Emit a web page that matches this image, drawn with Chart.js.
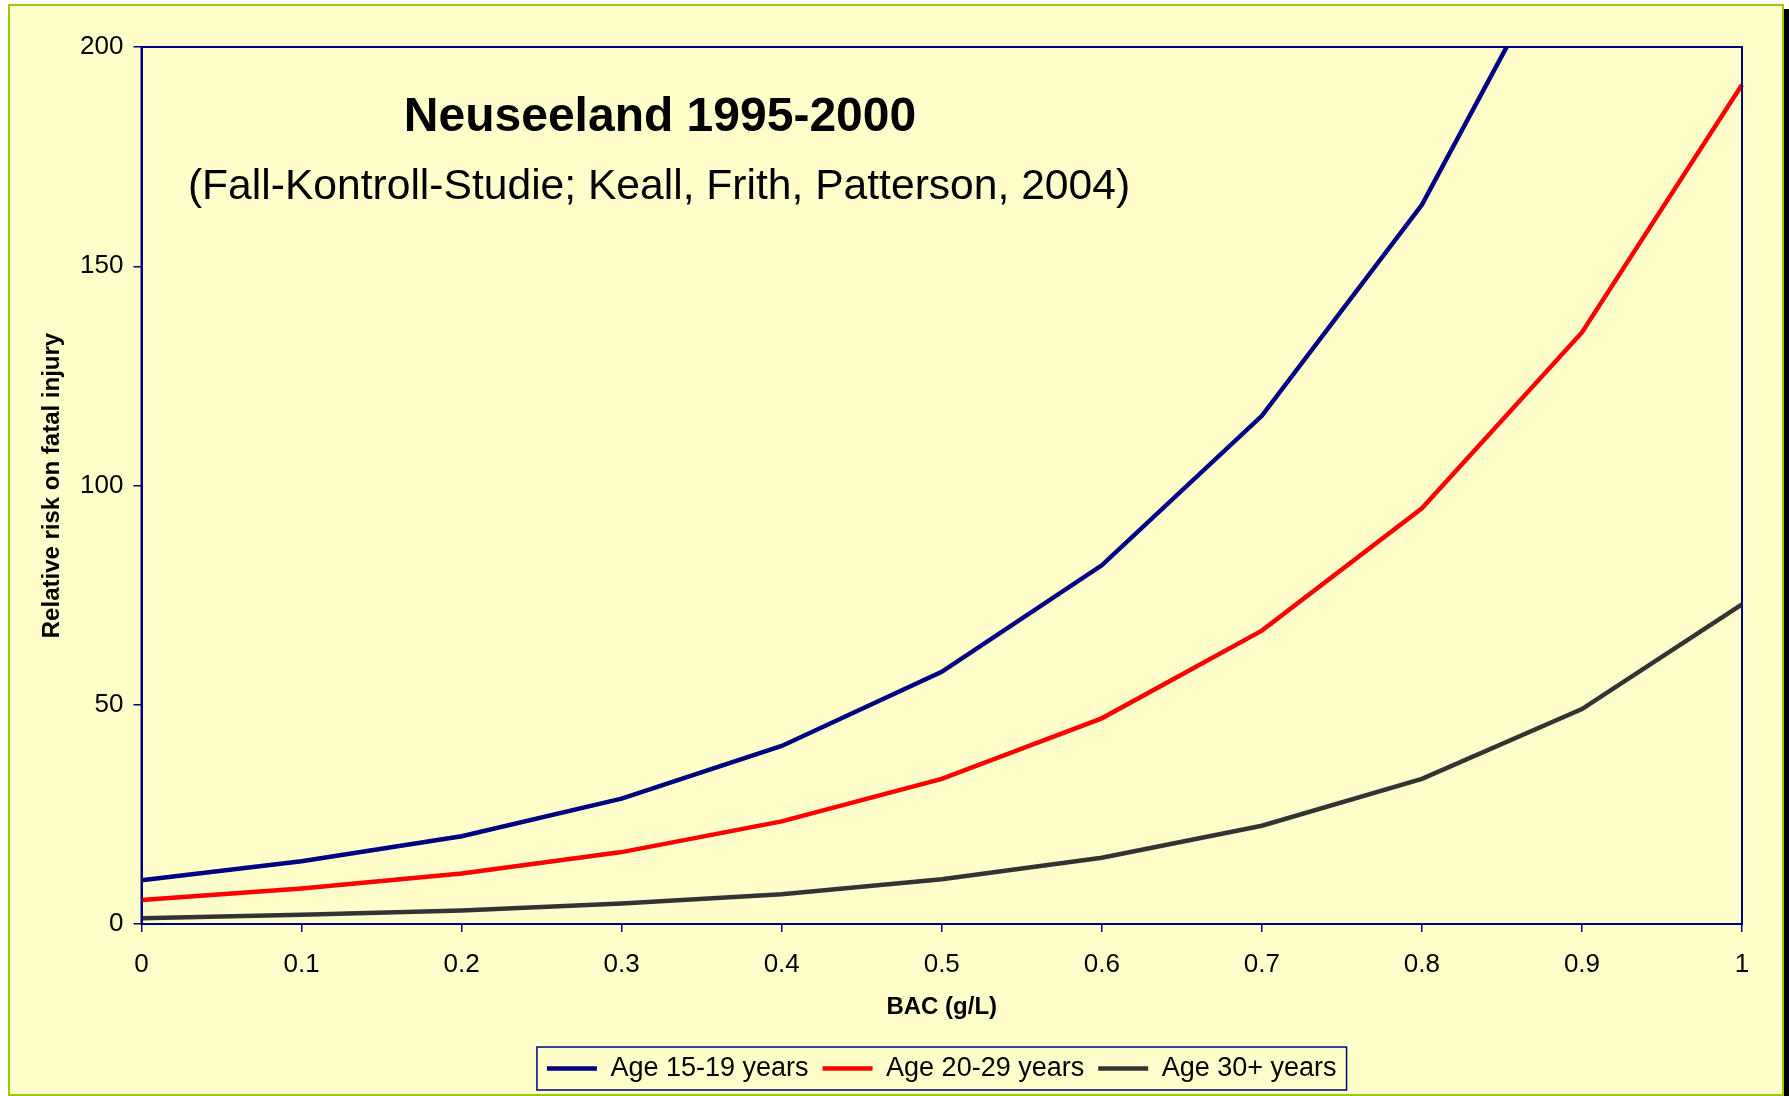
<!DOCTYPE html>
<html>
<head>
<meta charset="utf-8">
<script src="https://cdn.jsdelivr.net/npm/chart.js@4"></script>
<style>
  html, body { margin: 0; padding: 0; background: #fff; width: 1789px; height: 1096px; overflow: hidden; }
  #frame {
    position: absolute; left: 8px; top: 4px; width: 1772px; height: 1088px;
    background: #ffffcc; border: 2px solid #99cc00; box-shadow: 5px 5px 0 #000;
  }
  #frame canvas { display: block; }
</style>
</head>
<body>
<div id="frame"><canvas id="risk-chart" width="1772" height="1088"></canvas></div>
<script>
// BAC levels (g/L) and relative risk of fatal injury per age group
const bacLabels = ['0', '0.1', '0.2', '0.3', '0.4', '0.5', '0.6', '0.7', '0.8', '0.9', '1'];
const age15to19 = [10, 14.3, 20, 28.6, 40.6, 57.5, 81.8, 115.9, 164, 232, 328];
const age20to29 = [5.5, 8.1, 11.5, 16.4, 23.4, 33.1, 46.9, 66.9, 94.8, 134.9, 191.4];
const age30plus = [1.3, 2.1, 3.1, 4.7, 6.8, 10.2, 15.1, 22.4, 33.1, 49, 72.9];
const yTicks = [0, 50, 100, 150, 200];

const FONT = 'Arial, "Liberation Sans", sans-serif';
const NAVY = '#000080';

// plot frame, in-chart title and the box round the legend
const decorations = {
  id: 'decorations',
  afterDatasetsDraw(chart) {
    const { ctx, chartArea: a } = chart;
    ctx.save();
    ctx.strokeStyle = NAVY;
    ctx.lineWidth = 2;
    ctx.strokeRect(a.left, a.top, a.right - a.left, a.bottom - a.top);
    ctx.restore();
  },
  afterDraw(chart) {
    const { ctx } = chart;
    ctx.save();
    ctx.fillStyle = '#000';
    ctx.textAlign = 'center';
    ctx.textBaseline = 'middle';
    ctx.font = 'bold 48px ' + FONT;
    ctx.fillText('Neuseeland 1995-2000', 650, 111.5);
    ctx.font = '42.6px ' + FONT;
    ctx.fillText('(Fall-Kontroll-Studie; Keall, Frith, Patterson, 2004)', 649, 181.5);

    const boxes = chart.legend.legendHitBoxes;
    if (boxes && boxes.length) {
      const l = Math.min(...boxes.map(b => b.left)) - 10;
      const r = Math.max(...boxes.map(b => b.left + b.width)) + 10;
      const t = Math.min(...boxes.map(b => b.top)) - 8;
      const btm = Math.max(...boxes.map(b => b.top + b.height)) + 8;
      ctx.strokeStyle = NAVY;
      ctx.lineWidth = 1.5;
      ctx.strokeRect(l, t, r - l, btm - t);
    }
    ctx.restore();
  }
};

function lineSet(label, data, color) {
  return {
    label,
    data,
    borderColor: color,
    backgroundColor: color,
    borderWidth: 4.5,
    pointRadius: 0,
    tension: 0,
    fill: false
  };
}

new Chart(document.getElementById('risk-chart'), {
  type: 'line',
  data: {
    labels: bacLabels,
    datasets: [
      lineSet('Age 15-19 years', age15to19, NAVY),
      lineSet('Age 20-29 years', age20to29, '#ff0000'),
      lineSet('Age 30+ years', age30plus, '#333333')
    ]
  },
  options: {
    responsive: false,
    animation: false,
    layout: { padding: { top: 41, right: 40, left: 0, bottom: 2 } },
    plugins: {
      title: { display: false },
      tooltip: { enabled: false },
      legend: {
        position: 'bottom',
        fullSize: false,
        labels: {
          usePointStyle: true,
          pointStyle: 'line',
          pointStyleWidth: 50,
          color: '#000',
          padding: 14,
          font: { family: FONT, size: 27 }
        }
      }
    },
    scales: {
      x: {
        type: 'category',
        offset: false,
        afterFit: s => { s.height = 117; },
        grid: { offset: false, drawOnChartArea: false, drawTicks: true, tickLength: 8, color: NAVY, lineWidth: 1.5 },
        border: { color: NAVY, width: 2 },
        ticks: { color: '#000', padding: 17, maxRotation: 0, autoSkip: false, font: { family: FONT, size: 26 } },
        title: { display: true, text: 'BAC (g/L)', color: '#000', padding: { top: 0, bottom: 19.5 }, font: { family: FONT, size: 24, weight: 'bold' } }
      },
      y: {
        min: 0,
        max: 200,
        afterFit: s => { s.width = 131.5; },
        afterBuildTicks: s => { s.ticks = yTicks.map(v => ({ value: v })); },
        grid: { drawOnChartArea: false, drawTicks: true, tickLength: 8, color: NAVY, lineWidth: 1.5 },
        border: { color: NAVY, width: 2 },
        ticks: { color: '#000', padding: 10, font: { family: FONT, size: 26 } },
        title: { display: true, text: 'Relative risk on fatal injury', color: '#000', padding: { top: 28, bottom: 0 }, font: { family: FONT, size: 24, weight: 'bold' } }
      }
    }
  },
  plugins: [decorations]
});
</script>
</body>
</html>
